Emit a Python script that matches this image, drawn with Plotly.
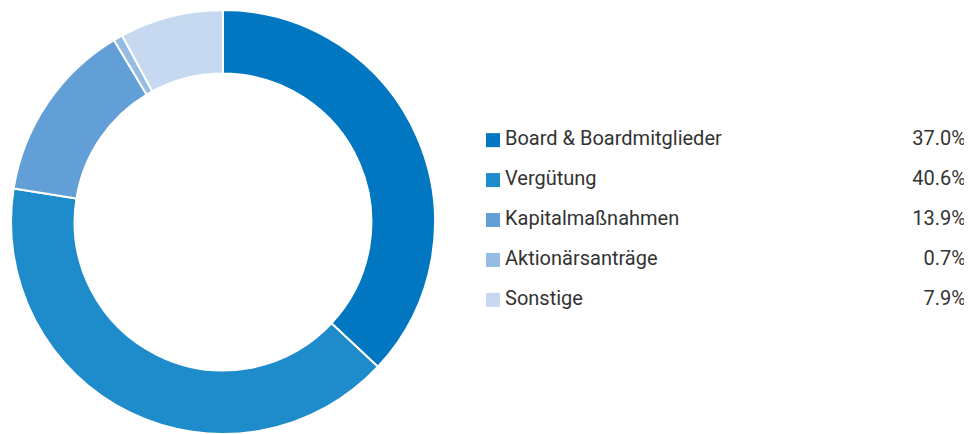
import plotly.graph_objects as go

categories = ["Board & Boardmitglieder", "Vergütung", "Kapitalmaßnahmen", "Aktionärsanträge", "Sonstige"]
values = [37.0, 40.6, 13.9, 0.7, 7.9]
colors = ["#0077C0", "#1E8BCB", "#629FD6", "#97BCE3", "#C6D9F0"]
pct_labels = [f"{v:.1f}%" for v in values]

FONT = "Roboto, sans-serif"
TXT = "#333333"

# page has an 8px body margin; the figure is sized to fit the window
W, H = 964, 426

fig = go.Figure()
fig.add_trace(go.Pie(
    labels=categories, values=values, sort=False, direction="clockwise", rotation=0,
    hole=0.70, marker=dict(colors=colors, line=dict(color="white", width=2)),
    textinfo="none", hoverinfo="label+percent", showlegend=False,
    domain=dict(x=[3/W, 427/W], y=[0, 1 - 2/H]),
))

idx = list(range(len(categories)))
fig.add_trace(go.Scatter(
    x=[485]*len(idx), y=idx, mode="markers", cliponaxis=False,
    marker=dict(symbol="square", size=14, color=colors, line=dict(width=0)),
    showlegend=False, hoverinfo="skip",
))
fig.add_trace(go.Scatter(
    x=[497]*len(idx), y=idx, mode="text", text=categories, textposition="middle right",
    textfont=dict(family=FONT, size=20, color=TXT), cliponaxis=False,
    showlegend=False, hoverinfo="skip",
))
fig.add_trace(go.Scatter(
    x=[958]*len(idx), y=idx, mode="text", text=pct_labels, textposition="middle left",
    textfont=dict(family=FONT, size=20, color=TXT), cliponaxis=False,
    showlegend=False, hoverinfo="skip",
))

fig.update_layout(
    width=W, height=H, margin=dict(l=0, r=0, t=0, b=0),
    paper_bgcolor="white", plot_bgcolor="rgba(0,0,0,0)",
    xaxis=dict(domain=[0, 1], range=[0, W], visible=False, fixedrange=True),
    yaxis=dict(domain=[0, 1], range=[7.36, -3.31], visible=False, fixedrange=True),
    font=dict(family=FONT, color=TXT),
)
fig.write_html("out.html")
